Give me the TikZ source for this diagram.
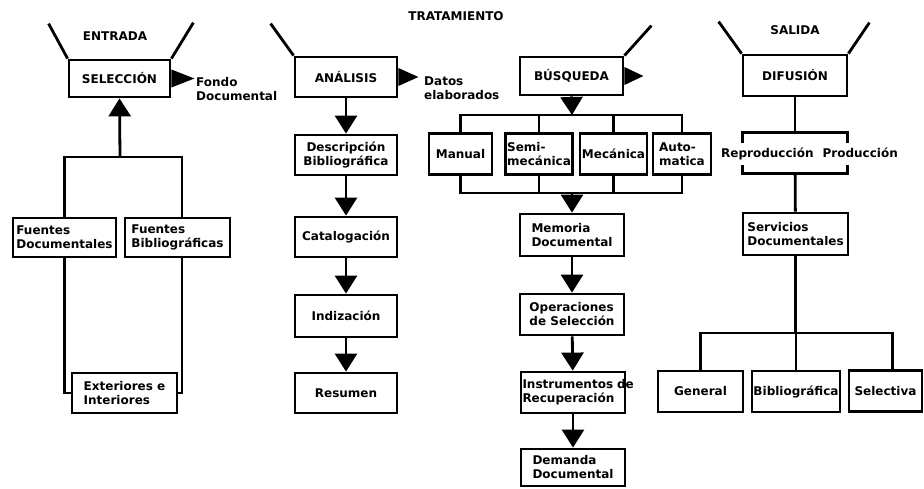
\documentclass[tikz,border=0pt]{standalone}
\usepackage{fontspec}
\setmainfont{DejaVu Sans}
\usetikzlibrary{arrows.meta}

\begin{document}
\begin{tikzpicture}[x=1pt,y=1pt,
        caja/.style={draw,line width=2.8pt,align=left,inner sep=1.5pt,minimum height=40pt},
        texto/.style={align=left,inner sep=0pt},
        linea/.style={line width=2.8pt},
        flecha/.style={line width=2.8pt,-{Triangle[width=22pt,length=18pt]}},
        every node/.style={font=\bfseries\fontsize{12}{14}\selectfont}]
        \useasboundingbox (0,0) rectangle (924,-488);
        \pgfmathsetmacro{\pw}{104} % box width
        \pgfmathsetmacro{\th}{9} % half height of side triangles
        % ENTRADA
        \node (entrada) at (115,-36) {ENTRADA};
        \node[caja,minimum width=101pt,minimum height=37pt] (seleccion) at (119.5,-78.5) {SELECCIÓN};
        \draw[linea] (seleccion.north west) -- ++(-19,35);
        \draw[linea] (seleccion.north east) -- ++(22,36);
        \fill ([yshift=\th pt]seleccion.east) -- ++(23,-\th) -- ([yshift=-\th pt]seleccion.east) -- cycle;
        \node[texto,anchor=west] (fondo) at (196,-89) {Fondo\\Documental};
        \node[caja,minimum width=103pt,minimum height=39pt] (fdoc) at (64.5,-237.5) {Fuentes\\Documentales};
        \node[caja,minimum width=105pt,minimum height=39pt] (fbib) at (177.5,-237.5) {Fuentes\\Bibliográficas};
        \node[caja,minimum width=105pt] (ext) at (124.5,-393) {Exteriores e\\Interiores};
        \coordinate (ejoin) at (120,-157);
        \draw[linea] (fdoc.north) |- (ejoin) -| ([xshift=4.5pt]fbib.north);
        \draw[flecha] (ejoin) -- (seleccion.south);
        \draw[linea] (fdoc.south) |- (ext.west);
        \draw[linea] ([xshift=4.5pt]fbib.south) |- (ext.east);
        % TRATAMIENTO
        \node (tratamiento) at (456,-16) {TRATAMIENTO};
        \node[caja,minimum width=102pt] (analisis) at (346,-77) {ANÁLISIS};
        \draw[linea] (analisis.north west) -- ++(-23,32);
        \fill ([yshift=\th pt]analisis.east) -- ++(20,-\th) -- ([yshift=-\th pt]analisis.east) -- cycle;
        \node[texto,anchor=west] (datos) at (424,-88) {Datos\\elaborados};
        \node[caja,minimum width=102pt,align=center] (desc) at (346,-155) {Descripción\\Bibliográfica};
        \node[caja,minimum width=102pt] (catal) at (346,-237) {Catalogación};
        \node[caja,minimum width=102pt,minimum height=42pt] (indiz) at (346,-316) {Indización};
        \node[caja,minimum width=102pt] (resumen) at (346,-393) {Resumen};
        \node[caja,minimum width=103pt,minimum height=38pt] (busqueda) at (571.5,-76) {BÚSQUEDA};
        \draw[linea] (busqueda.north east) -- ++(27,30);
        \fill ([yshift=\th pt]busqueda.east) -- ++(19,-\th) -- ([yshift=-\th pt]busqueda.east) -- cycle;
        \coordinate (btop) at (572,-115);
        \coordinate (bbot) at (572,-193);
        \draw[flecha] (busqueda.south) -- (btop);
        \node[caja,minimum width=63pt,minimum height=41pt] (manual) at (460.5,-154) {Manual};
        \node[caja,minimum width=66pt,minimum height=41pt] (semi) at (539,-154) {Semi-\\mecánica};
        \node[caja,minimum width=67pt,minimum height=41pt] (mecanica) at (613.5,-154) {Mecánica};
        \node[caja,minimum width=58pt,minimum height=41pt] (auto) at (682,-154) {Auto-\\matica};
        \draw[linea] (manual.north) |- (btop) -| (auto.north);
        \draw[linea] (manual.south) |- (bbot) -| (auto.south);
        \foreach \n in {semi,mecanica}{
            \draw[linea] (\n.north) -- (\n.north |- btop);
            \draw[linea] (\n.south) -- (\n.south |- bbot);
        }
        \node[caja,minimum width=\pw pt,minimum height=42pt] (memoria) at (572,-235) {Memoria\\Documental};
        \node[caja,minimum width=\pw pt,minimum height=41pt] (operac) at (572,-314.5) {Operaciones\\de Selección};
        \node[caja,text width=101pt,minimum height=41pt] (instr) at (573,-392.5) {Instrumentos~de\\Recuperación};
        \node[caja,minimum width=\pw pt,minimum height=37pt] (demanda) at (573,-467.5) {Demanda\\Documental};
        \draw[flecha] (bbot) -- (memoria.north);
        \foreach \a/\b in {analisis/desc,desc/catal,catal/indiz,indiz/resumen,memoria/operac,operac/instr,instr/demanda}
            \draw[flecha] (\a) -- (\b);
        % SALIDA
        \node (salida) at (795,-30) {SALIDA};
        \node[caja,minimum width=\pw pt,minimum height=41pt] (difusion) at (795,-75.5) {DIFUSIÓN};
        \draw[linea] (difusion.north west) -- ++(-23,32);
        \draw[linea] (difusion.north east) -- ++(21,31);
        \node[minimum width=\pw pt,minimum height=40pt] (repbox) at (795,-153) {};
        \draw[linea] ([yshift=-10pt]repbox.north west) -- (repbox.north west) -- (repbox.north east) -- ++(0,-10);
        \draw[linea] ([yshift=8pt]repbox.south west) -- (repbox.south west) -- (repbox.south east) -- ++(0,8);
        \node (reprod) at (809.5,-154) {Reproducción\hspace{9pt}Producción};
        \node[caja,minimum width=105pt,minimum height=42pt] (servicios) at (795.5,-234) {Servicios\\Documentales};
        \draw[linea] (difusion) -- (repbox);
        \draw[linea] (repbox) -- (servicios);
        \node[caja,minimum width=85pt,minimum height=41pt] (general) at (700.5,-391.5) {General};
        \node[caja,minimum width=84pt,minimum height=41pt] (bibliog) at (796,-391.5) {Bibliográfica};
        \node[caja,minimum width=73pt,minimum height=41pt] (selectiva) at (885.5,-391) {Selectiva};
        \coordinate (sbar) at (796,-333);
        \draw[linea] (servicios.south) -- (servicios.south |- sbar);
        \draw[linea] (general.north) |- (sbar) -| ([xshift=7pt]selectiva.north);
        \draw[linea] (bibliog.north) -- (bibliog.north |- sbar);
    \end{tikzpicture}
\end{document}
